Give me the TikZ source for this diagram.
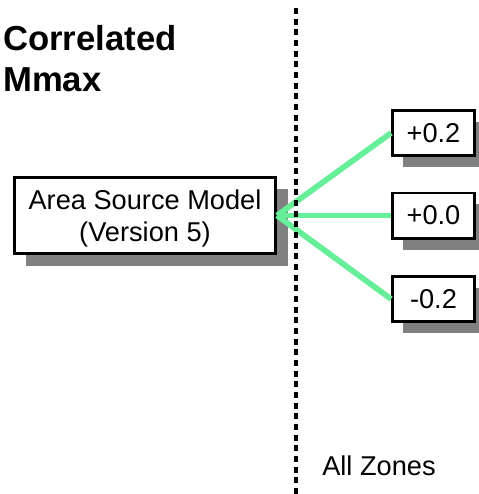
\documentclass[tikz,border=0pt]{standalone}
\usepackage{fontspec}
\setmainfont{Liberation Sans}
\usepackage{tikz}
\usetikzlibrary{positioning, shadows}
\definecolor{branchgreen}{RGB}{102,238,153}
\tikzset{
    model/.style = {rectangle, draw, fill=white, line width=2pt, minimum width=196pt,
                        minimum height=57.25pt, align=center, inner sep=0pt, text depth=0pt,
                        drop shadow={shadow xshift=9pt, shadow yshift=-9pt, fill=black!50, opacity=1}},
    branch/.style = {rectangle, draw, fill=white, line width=2pt, minimum width=61.75pt,
                        minimum height=34pt, inner sep=0pt,
                        drop shadow={shadow xshift=8pt, shadow yshift=-8.5pt, fill=black!50, opacity=1}},
    link/.style = {draw=branchgreen, line width=4.3pt}
}

\begin{document}
\begin{tikzpicture}[x=0.75pt,y=-0.75pt]
			\tikzstyle{every node}=[font=\fontsize{20.4pt}{24pt}\selectfont]
			\useasboundingbox (0,0) rectangle (479,494);
			\node (title1) [anchor=base west, inner sep=0pt, font=\fontsize{26pt}{30pt}\selectfont\bfseries] at (3,50) {Correlated};
			\node (title2) [anchor=base west, inner sep=0pt, font=\fontsize{26pt}{30pt}\selectfont\bfseries] at (3,91) {Mmax};
			\node (asm) [model] at (145,215.5) {Area Source Model\\(Version 5)};
			\node (up) [branch] at (433.5,133) {+0.2};
			\node (mid) [branch] at (433.5,215.5) {+0.0};
			\node (down) [branch] at (433.5,299) {-0.2};
			\draw [link] (asm.east) -- (up.west);
			\draw [link] (asm.east) -- (mid.west);
			\draw [link] (asm.east) -- (down.west);
			\coordinate (ztop) at (296,8);
			\coordinate (zbot) at (296,494);
			\draw [line width=2.6pt, dash pattern=on 4.5pt off 3.5pt] (ztop) -- (zbot);
			\node (zones) [anchor=base west, inner sep=0pt] at (322,475) {All Zones};
		\end{tikzpicture}
\end{document}
